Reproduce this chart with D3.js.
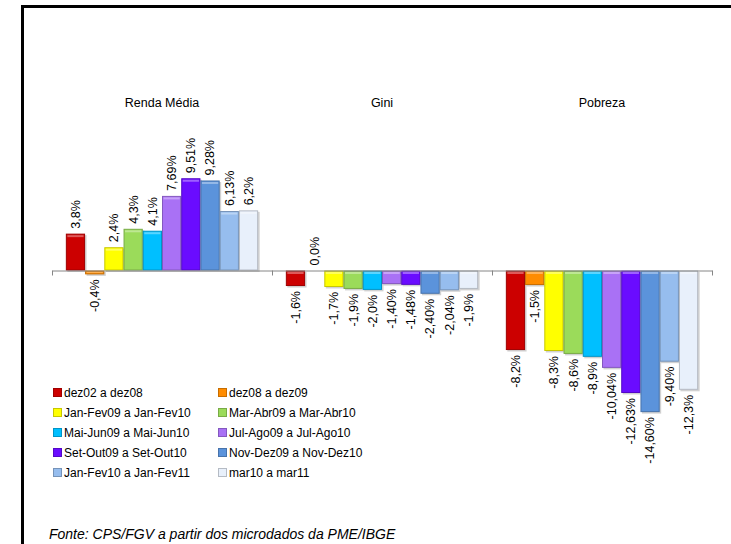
<!DOCTYPE html>
<html>
<head>
<meta charset="utf-8">
<script src="https://cdn.jsdelivr.net/npm/d3@7"></script>
<style>
  html, body { margin: 0; background: #fff; overflow: hidden; }
  svg { display: block; }
  text { font-family: "Liberation Sans", Arial, sans-serif; fill: #000; }
</style>
</head>
<body>
<div id="chart"></div>
<script>
const categories = ["Renda Média", "Gini", "Pobreza"];

const series = [
  "dez02 a dez08", "dez08 a dez09",
  "Jan-Fev09 a Jan-Fev10", "Mar-Abr09 a Mar-Abr10",
  "Mai-Jun09 a Mai-Jun10", "Jul-Ago09 a Jul-Ago10",
  "Set-Out09 a Set-Out10", "Nov-Dez09 a Nov-Dez10",
  "Jan-Fev10 a Jan-Fev11", "mar10 a mar11"
];

const colors = [
  "#cc0000", "#ff8c00", "#ffff00", "#9bdb5a", "#00bfff",
  "#a971f5", "#6a0cff", "#5b93db", "#96bdee", "#e8f0fb"
];

// valores por categoria (na ordem das séries)
const rendaValues   = [3.8, -0.4, 2.4, 4.3, 4.1, 7.69, 9.51, 9.28, 6.13, 6.2];
const giniValues    = [-1.6, 0.0, -1.7, -1.9, -2.0, -1.40, -1.48, -2.40, -2.04, -1.9];
const pobrezaValues = [-8.2, -1.5, -8.3, -8.6, -8.9, -10.04, -12.63, -14.60, -9.40, -12.3];

const rendaLabels   = ["3,8%", "-0,4%", "2,4%", "4,3%", "4,1%", "7,69%", "9,51%", "9,28%", "6,13%", "6,2%"];
const giniLabels    = ["-1,6%", "0,0%", "-1,7%", "-1,9%", "-2,0%", "-1,40%", "-1,48%", "-2,40%", "-2,04%", "-1,9%"];
const pobrezaLabels = ["-8,2%", "-1,5%", "-8,3%", "-8,6%", "-8,9%", "-10,04%", "-12,63%", "-14,60%", "-9,40%", "-12,3%"];

const source = "Fonte: CPS/FGV a partir dos microdados da PME/IBGE";

const W = 731, H = 544;

const svg = d3.select("#chart")
  .append("svg")
  .attr("width", W)
  .attr("height", H);

// moldura
svg.append("rect")
  .attr("x", 22.5).attr("y", 6.5)
  .attr("width", 800).attr("height", 800)
  .attr("fill", "none")
  .attr("stroke", "#000")
  .attr("stroke-width", 3);

const valuesByCat = [rendaValues, giniValues, pobrezaValues];
const labelsByCat = [rendaLabels, giniLabels, pobrezaLabels];

const data = [];
categories.forEach((c, ci) => {
  series.forEach((s, si) => {
    data.push({ cat: c, series: s, value: valuesByCat[ci][si], label: labelsByCat[ci][si], color: colors[si] });
  });
});

const x0 = d3.scaleBand()
  .domain(categories)
  .range([52, 712]);

const x1 = d3.scaleBand()
  .domain(series)
  .range([0, x0.bandwidth()])
  .paddingInner(0)
  .paddingOuter(0.72);

const y = d3.scaleLinear()
  .domain([-16, 18])
  .range([425.7, 95.9]);

// títulos das categorias
svg.append("g")
  .selectAll("text")
  .data(categories)
  .join("text")
  .attr("x", d => x0(d) + x0.bandwidth() / 2)
  .attr("y", 107)
  .attr("text-anchor", "middle")
  .style("font-size", "12.5px")
  .text(d => d);

// barras
const bars = svg.append("g");

bars.selectAll("rect.shadow")
  .data(data.filter(d => d.value !== 0))
  .join("rect")
  .attr("class", "shadow")
  .attr("x", d => x0(d.cat) + x1(d.series) + 1.5)
  .attr("y", d => Math.min(y(d.value), y(0)) + 1.5)
  .attr("width", x1.bandwidth())
  .attr("height", d => Math.abs(y(d.value) - y(0)))
  .attr("fill", "#000")
  .attr("opacity", 0.18);

bars.selectAll("rect.bar")
  .data(data.filter(d => d.value !== 0))
  .join("rect")
  .attr("class", "bar")
  .attr("x", d => x0(d.cat) + x1(d.series) + 0.5)
  .attr("y", d => Math.min(y(d.value), y(0)) + 0.5)
  .attr("width", x1.bandwidth() - 1)
  .attr("height", d => Math.max(0, Math.abs(y(d.value) - y(0)) - 1))
  .attr("fill", d => d.color)
  .attr("stroke", d => d3.color(d.color).darker(0.7))
  .attr("stroke-width", 1);

// brilho no topo
bars.selectAll("rect.hi")
  .data(data.filter(d => d.value !== 0))
  .join("rect")
  .attr("class", "hi")
  .attr("x", d => x0(d.cat) + x1(d.series) + 1.5)
  .attr("y", d => Math.min(y(d.value), y(0)) + 1.5)
  .attr("width", x1.bandwidth() - 3)
  .attr("height", d => Math.min(2, Math.abs(y(d.value) - y(0)) - 3))
  .attr("fill", "#fff")
  .attr("opacity", 0.35);

// eixo
const axis = svg.append("g")
  .attr("transform", `translate(0,${y(0)})`)
  .call(d3.axisBottom(x0).tickValues([]).tickSizeOuter(0));
axis.select(".domain").attr("stroke", "#868686");

svg.append("g")
  .selectAll("line")
  .data(d3.range(categories.length + 1))
  .join("line")
  .attr("x1", i => x0.range()[0] + i * x0.bandwidth() + 0.5)
  .attr("x2", i => x0.range()[0] + i * x0.bandwidth() + 0.5)
  .attr("y1", y(0))
  .attr("y2", y(0) + 5)
  .attr("stroke", "#868686");

// rótulos de dados
svg.append("g")
  .selectAll("text")
  .data(data)
  .join("text")
  .attr("transform", d => {
    const cx = x0(d.cat) + x1(d.series) + x1.bandwidth() / 2;
    const ly = d.value >= 0 ? y(d.value) - 5 : y(d.value) + 5;
    return `translate(${cx},${ly}) rotate(-90)`;
  })
  .attr("dy", "0.35em")
  .attr("text-anchor", d => d.value >= 0 ? "start" : "end")
  .style("font-size", "12.5px")
  .text(d => d.label);

// legenda
const legend = svg.append("g");
series.forEach((s, i) => {
  const col = i % 2, row = Math.floor(i / 2);
  const lx = col === 0 ? 53 : 218;
  const ly = 393 + row * 20;
  legend.append("rect")
    .attr("x", lx + 0.5)
    .attr("y", ly - 4.5)
    .attr("width", 8)
    .attr("height", 8)
    .attr("fill", colors[i])
    .attr("stroke", d3.color(colors[i]).darker(0.7));
  legend.append("text")
    .attr("x", lx + 11)
    .attr("y", ly)
    .attr("dy", "0.35em")
    .style("font-size", "12px")
    .text(s);
});

// fonte
svg.append("text")
  .attr("x", 49)
  .attr("y", 539)
  .style("font-size", "14px")
  .style("font-style", "italic")
  .text(source);
</script>
</body>
</html>
